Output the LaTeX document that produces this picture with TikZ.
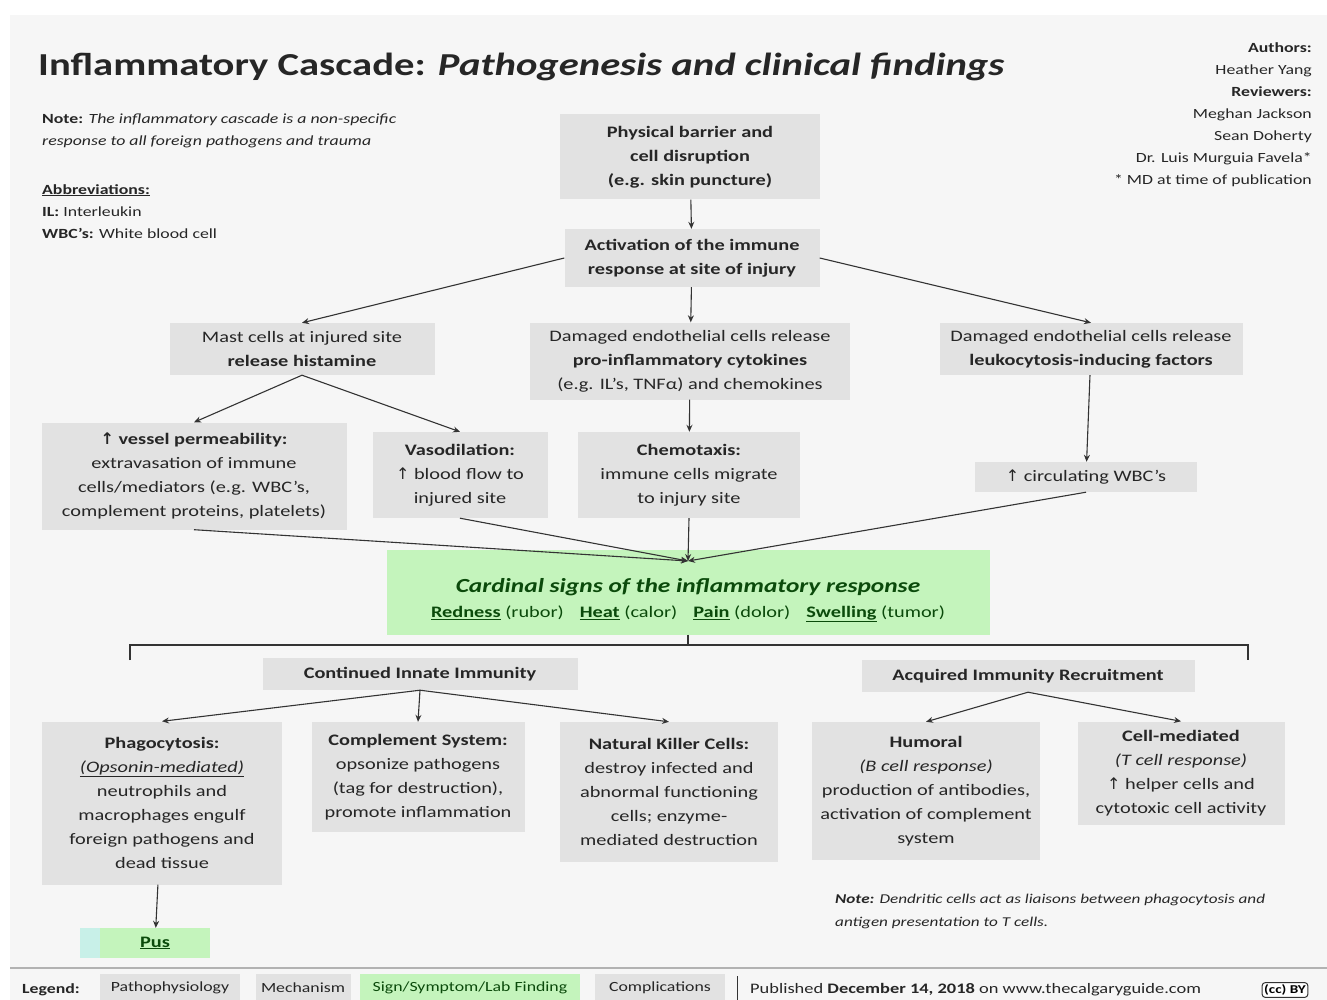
\documentclass[tikz,border=0pt]{standalone}
\usepackage{fontspec}
\setmainfont{Carlito}[FakeStretch=1.27]
\newfontfamily\symf{DejaVu Sans}
\usetikzlibrary{arrows.meta}
\newcommand{\upar}{{\symf\char"2191}}
\definecolor{bgc}{HTML}{F6F6F6}
\definecolor{boxg}{HTML}{E2E2E2}
\definecolor{grn}{HTML}{C4F4BC}
\definecolor{dgrn}{HTML}{0B4A0B}
\definecolor{lcyan}{HTML}{C8F0E8}
\definecolor{linec}{HTML}{333333}
\tikzset{
  box/.style={fill=boxg, inner sep=0pt, align=center, text=black!85, font=\fontsize{16}{24}\selectfont},
  gbox/.style={fill=grn, inner sep=0pt, align=center, text=dgrn},
  arr/.style={draw=linec, line width=1.1pt, -{Stealth[length=7pt,width=6pt]}},
  ln/.style={draw=linec, line width=1.1pt},
  plain/.style={inner sep=0pt, text=black!85},
}
\begin{document}
\begin{tikzpicture}[x=1pt,y=-1pt]
\useasboundingbox (0,0) rectangle (1327,1000);
\fill[white] (0,0) rectangle (1327,1000);
\fill[bgc] (10,15) rectangle (1327,1000);

% title
\node[plain, anchor=west, font=\fontsize{32}{40}\selectfont\bfseries] (title) at (38,67) {Inflammatory Cascade: \textit{Pathogenesis and clinical findings}};

% top-left note
\node[plain, anchor=north west, align=left, font=\fontsize{14}{22}\selectfont] (note1) at (42,114) {\textbf{Note:} \textit{The inflammatory cascade is a non-specific}\\ \textit{response to all foreign pathogens and trauma}};
\node[plain, anchor=north west, align=left, font=\fontsize{14}{22}\selectfont] (abbr) at (42,184) {\textbf{\underline{Abbreviations:}}\\ \textbf{IL:} Interleukin\\ \textbf{WBC's:} White blood cell};

% authors
\node[plain, anchor=north east, align=right, font=\fontsize{14}{22}\selectfont] (auth) at (1312,42) {\textbf{Authors:}\\ Heather Yang\\ \textbf{Reviewers:}\\ Meghan Jackson\\ Sean Doherty\\ Dr. Luis Murguia Favela*\\ * MD at time of publication};

% main boxes
\node[box, minimum width=260, minimum height=85, font=\fontsize{16}{24}\selectfont\bfseries] (phys) at (690,157) {Physical barrier and\\ cell disruption\\ (e.g. skin puncture)};
\node[box, minimum width=255, minimum height=58, font=\fontsize{16}{24}\selectfont\bfseries] (act) at (692,258) {Activation of the immune\\ response at site of injury};
\node[box, minimum width=265, minimum height=52] (mast) at (302,349) {Mast cells at injured site\\ \textbf{release histamine}};
\node[box, minimum width=320, minimum height=77] (cyto) at (690,361) {Damaged endothelial cells release\\ \textbf{pro-inflammatory cytokines}\\ (e.g. IL's, TNFα) and chemokines};
\node[box, minimum width=303, minimum height=52] (leuko) at (1091,349) {Damaged endothelial cells release\\ \textbf{leukocytosis-inducing factors}};
\node[box, minimum width=305, minimum height=107] (perm) at (194,476) {\textbf{\upar\ vessel permeability:}\\ extravasation of immune\\ cells/mediators (e.g. WBC's,\\ complement proteins, platelets)};
\node[box, minimum width=175, minimum height=86] (vaso) at (460,475) {\textbf{Vasodilation:}\\ \upar\ blood flow to\\ injured site};
\node[box, minimum width=222, minimum height=86] (chemo) at (689,475) {\textbf{Chemotaxis:}\\ immune cells migrate\\ to injury site};
\node[box, minimum width=222, minimum height=30] (wbc) at (1086,477) {\upar\ circulating WBC's};

% cardinal signs
\node[gbox, minimum width=603, minimum height=85] (card) at (688,592) {{\fontsize{20}{26}\selectfont\bfseries\itshape \rule{0pt}{30pt}Cardinal signs of the inflammatory response}\\[9pt]
{\fontsize{16}{22}\selectfont \underline{\textbf{Redness}} (rubor)\quad \underline{\textbf{Heat}} (calor)\quad \underline{\textbf{Pain}} (dolor)\quad \underline{\textbf{Swelling}} (tumor)}};
\coordinate (cardin) at (688,561);

% bracket
\coordinate (bc) at (688,645);
\coordinate (bl) at (130,660);
\coordinate (blt) at (130,645);
\coordinate (br) at (1248,660);
\coordinate (brt) at (1248,645);

\node[box, minimum width=315, minimum height=32, font=\fontsize{16}{24}\selectfont\bfseries] (innate) at (420,674) {Continued Innate Immunity};
\node[box, minimum width=333, minimum height=32, font=\fontsize{16}{24}\selectfont\bfseries] (acq) at (1028,676) {Acquired Immunity Recruitment};

\node[box, minimum width=240, minimum height=163] (phago) at (162,803) {\textbf{Phagocytosis:}\\ \underline{\textit{(Opsonin-mediated)}}\\ neutrophils and\\ macrophages engulf\\ foreign pathogens and\\ dead tissue};
\node[box, minimum width=213, minimum height=110] (compl) at (418,777) {\textbf{Complement System:}\\ opsonize pathogens\\ (tag for destruction),\\ promote inflammation};
\node[box, minimum width=218, minimum height=140] (nk) at (669,792) {\textbf{Natural Killer Cells:}\\ destroy infected and\\ abnormal functioning\\ cells; enzyme-\\ mediated destruction};
\node[box, minimum width=228, minimum height=138] (hum) at (926,791) {\textbf{Humoral}\\ \textit{(B cell response)}\\ production of antibodies,\\ activation of complement\\ system};
\node[box, minimum width=207, minimum height=103] (cell) at (1181,773) {\textbf{Cell-mediated}\\ \textit{(T cell response)}\\ \upar\ helper cells and\\ cytotoxic cell activity};

\fill[lcyan] (80,928) rectangle (100,958);
\node[gbox, minimum width=110, minimum height=30, font=\fontsize{16}{24}\selectfont\bfseries] (pus) at (155,943) {\underline{Pus}};

% bottom note
\node[plain, anchor=north west, align=left, font=\fontsize{13.5}{23}\selectfont\itshape] (note2) at (835,894) {\textbf{Note:} Dendritic cells act as liaisons between phagocytosis and\\ antigen presentation to T cells.};

% arrows
\draw[arr] (phys) -- (act);
\draw[arr] (act.west) -- (mast.north);
\draw[arr] (act) -- (cyto);
\draw[arr] (act.east) -- (leuko.north);
\draw[arr] (mast.south) -- (perm.north);
\draw[arr] (mast.south) -- (vaso.north);
\draw[arr] (cyto) -- (chemo);
\draw[arr] (leuko) -- (wbc);
\draw[arr] (perm.south) -- (cardin);
\draw[arr] (vaso.south) -- (cardin);
\draw[arr] (chemo.south) -- (cardin);
\draw[arr] (wbc.south) -- (cardin);
\draw[ln] (card.south) -- (bc);
\draw[ln] (bl) -- (blt) -- (brt) -- (br);
\draw[arr] (innate.south) -- (phago.north);
\draw[arr] (innate.south) -- (compl.north);
\draw[arr] (innate.south) -- (nk.north);
\draw[arr] (acq.south) -- (hum.north);
\draw[arr] (acq.south) -- (cell.north);
\draw[arr] (phago) -- (pus);

% footer
\draw[gray!60, line width=1.5pt] (10,968) -- (1327,968);
\node[plain, anchor=west, font=\fontsize{14}{18}\selectfont\bfseries] (leg) at (22,990) {Legend:};
\node[box, minimum width=140, minimum height=28, font=\fontsize{14}{18}\selectfont] (l1) at (170,988) {Pathophysiology};
\node[box, minimum width=95, minimum height=28, font=\fontsize{14}{18}\selectfont] (l2) at (303,988) {Mechanism};
\node[gbox, minimum width=220, minimum height=28, font=\fontsize{14}{18}\selectfont] (l3) at (470,988) {Sign/Symptom/Lab Finding};
\node[box, minimum width=130, minimum height=28, font=\fontsize{14}{18}\selectfont] (l4) at (660,988) {Complications};
\draw[linec, line width=0.8pt] (737,976) -- (737,1000);
\node[plain, anchor=west, font=\fontsize{14.5}{18}\selectfont] (pub) at (750,990) {Published \textbf{December 14, 2018} on www.thecalgaryguide.com};
\node[draw=linec, line width=1pt, rounded corners=3pt, inner sep=2pt, font=\fontsize{12}{14}\selectfont\bfseries, fill=white] (cc) at (1285,990) {(cc) BY};
\end{tikzpicture}
\end{document}
